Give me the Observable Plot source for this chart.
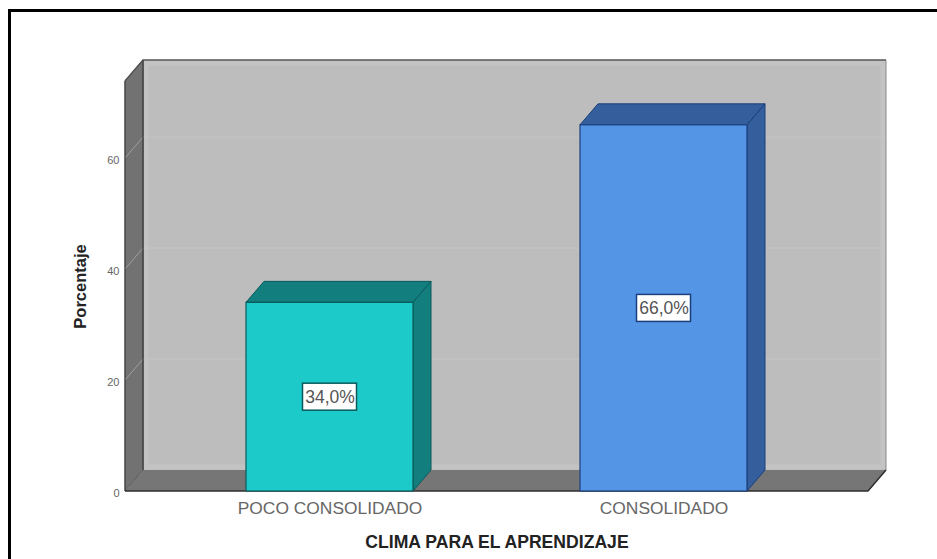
<!DOCTYPE html>
<html lang="es">
<head>
<meta charset="utf-8">
<title>Clima para el aprendizaje</title>
<style>
html,body{margin:0;padding:0;background:#fff;overflow:hidden}
#chart{position:relative;width:937px;height:559px}
#chart svg{position:absolute;left:0;top:0}
#border{position:absolute;left:8px;top:9px;right:0;bottom:0;border-left:3px solid #000;border-top:3px solid #000;z-index:2;pointer-events:none}
</style>
<script src="https://cdn.jsdelivr.net/npm/d3@7"></script>
<script src="https://cdn.jsdelivr.net/npm/@observablehq/plot@0.6"></script>
</head>
<body>
<div id="chart"><div id="border"></div></div>
<script>
const categories = ["POCO CONSOLIDADO", "CONSOLIDADO"];
const percentages = [34.0, 66.0];
const valueLabels = ["34,0%", "66,0%"];
const yTicks = [0, 20, 40, 60];
const yLabel = "Porcentaje";
const xLabel = "CLIMA PARA EL APRENDIZAJE";

const frontColors = ["#1ccbc9", "#5595e5"];
const darkColors = ["#127f7e", "#355f9c"];
const edgeColors = ["#0a5a5c", "#1b3f7c"];
const depthX = 18, depthY = 21;
const font = "'Liberation Sans', Arial, sans-serif";

const bars = categories.map((c, i) => ({category: c, value: percentages[i], label: valueLabels[i], i}));

const poly = (pts) => "M" + pts.map(p => p.join(",")).join("L") + "Z";
const bandOf = (x) => typeof x.bandwidth === "function" ? x.bandwidth() : x.bandwidth;

function walls(_, {y}, __, {width, height, marginLeft, marginRight, marginTop, marginBottom}) {
  const l = marginLeft, r = width - marginRight, b = height - marginBottom, t = marginTop;
  const g = d3.create("svg:g");
  const add = (pts, fill, stroke) => g.append("path").attr("d", poly(pts)).attr("fill", fill).attr("stroke", stroke || "none");
  add([[l + depthX, t - depthY], [r + depthX, t - depthY], [r + depthX, b - depthY], [l + depthX, b - depthY]], "#bdbdbd");
  // faint lighter strip just inside the wall's edges
  g.append("rect").attr("x", l + depthX + 3).attr("y", t - depthY + 3).attr("width", r - l - 6).attr("height", b - t - 6)
    .attr("fill", "none").attr("stroke", "#c3c3c3").attr("stroke-width", 5);
  add([[l, t], [l + depthX, t - depthY], [l + depthX, b - depthY], [l, b]], "#727272", "#444");
  add([[l, b], [l + depthX, b - depthY], [r + depthX, b - depthY], [r, b]], "#767676");
  for (const v of yTicks.filter(v => v > 0)) {
    g.append("line").attr("x1", l + depthX).attr("x2", r + depthX).attr("y1", y(v) - depthY).attr("y2", y(v) - depthY).attr("stroke", "#c6c6c6");
    g.append("line").attr("x1", l).attr("x2", l + depthX).attr("y1", y(v)).attr("y2", y(v) - depthY).attr("stroke", "#a0a0a0");
  }
  g.append("path").attr("d", `M${l},${t}L${l + depthX},${t - depthY}H${r + depthX}`).attr("fill", "none").attr("stroke", "#555").attr("stroke-width", 1.5);
  g.append("path").attr("d", `M${l + depthX},${t - depthY}V${b - depthY}`).attr("fill", "none").attr("stroke", "#4a4a4a").attr("stroke-width", 1.5);
  g.append("path").attr("d", `M${r + depthX},${t - depthY}V${b - depthY}L${r},${b}`).attr("fill", "none").attr("stroke", "#8a8a8a");
  g.append("path").attr("d", `M${l},${t}V${b}`).attr("fill", "none").attr("stroke", "#444");
  g.append("path").attr("d", `M${l},${b}H${r}L${r + depthX},${b - depthY}`).attr("fill", "none").attr("stroke", "#2f2f2f").attr("stroke-width", 1.5);
  return g.node();
}

function barFaces(_, {x, y}, __, {height, marginBottom}) {
  const g = d3.create("svg:g");
  const b = height - marginBottom, w = bandOf(x);
  for (const d of bars) {
    const x0 = x(d.category), x1 = x0 + w, t = y(d.value);
    g.append("path").attr("d", poly([[x0, t], [x0 + depthX, t - depthY], [x1 + depthX, t - depthY], [x1, t]]))
      .attr("fill", darkColors[d.i]).attr("stroke", edgeColors[d.i]);
    g.append("path").attr("d", poly([[x1, t], [x1 + depthX, t - depthY], [x1 + depthX, b - depthY], [x1, b]]))
      .attr("fill", darkColors[d.i]).attr("stroke", edgeColors[d.i]);
  }
  return g.node();
}

function labelBoxes(_, {x, y}) {
  const g = d3.create("svg:g");
  const w = bandOf(x);
  for (const d of bars) {
    const cx = x(d.category) + w / 2, cy = y(d.value / 2);
    g.append("rect").attr("x", cx - 27).attr("y", cy - 13.5).attr("width", 54).attr("height", 27)
      .attr("fill", "#fff").attr("stroke", edgeColors[d.i]).attr("stroke-width", 1.5);
  }
  return g.node();
}

const chart = Plot.plot({
  width: 937,
  height: 559,
  marginLeft: 125,
  marginRight: 69,
  marginTop: 81,
  marginBottom: 68,
  style: {fontFamily: font, background: "transparent"},
  x: {type: "band", domain: categories, paddingInner: 0.5, paddingOuter: 0.36, axis: null},
  y: {domain: [0, 73.9], axis: null},
  color: {domain: categories, range: frontColors},
  marks: [
    walls,
    barFaces,
    Plot.barY(bars, {x: "category", y: "value", fill: "category", stroke: (d) => edgeColors[d.i], strokeWidth: 1.2}),
    labelBoxes,
    Plot.text(bars, {x: "category", y: (d) => d.value / 2, text: "label", fontSize: 17.5, fill: "#555"}),
    Plot.axisY({ticks: yTicks, tickSize: 0, tickPadding: 6, label: null, fontSize: 11, fill: "#666", dy: 2}),
    Plot.axisX({tickSize: 0, tickPadding: 10, label: null, fontSize: 17.4, fill: "#666"}),
    Plot.text([yLabel], {frameAnchor: "left", textAnchor: "middle", rotate: -90, dx: -45, fontSize: 16.5, fontWeight: "bold", fill: "#222"}),
    Plot.text([xLabel], {frameAnchor: "bottom", dy: 56, fontSize: 17.6, fontWeight: "bold", fill: "#222"})
  ]
});
document.getElementById("chart").appendChild(chart);
</script>
</body>
</html>
